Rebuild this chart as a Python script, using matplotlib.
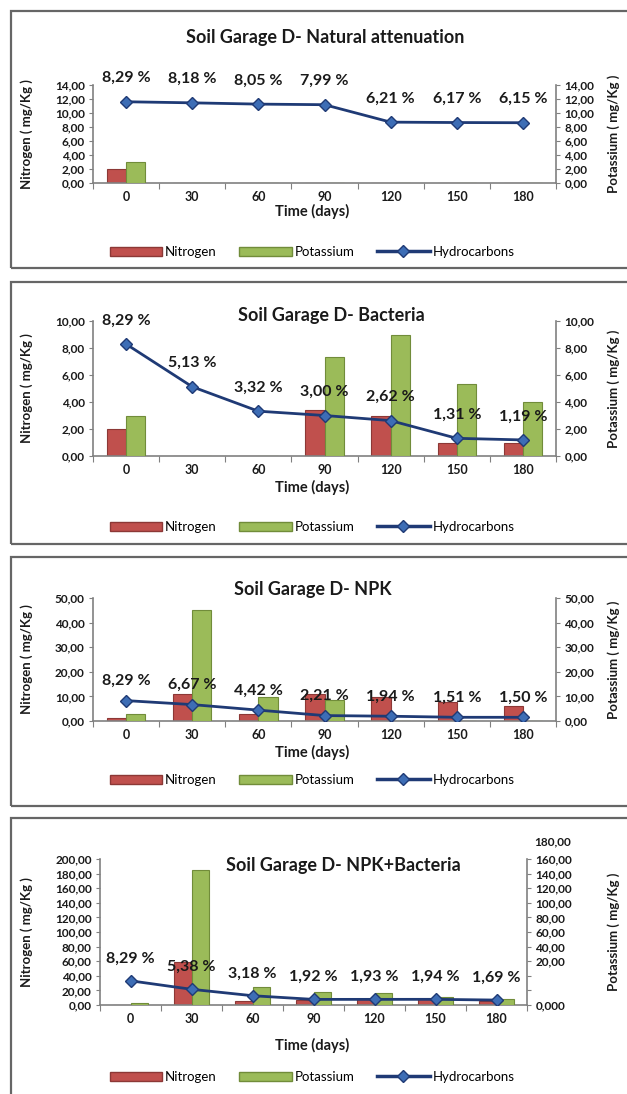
import numpy as np
import matplotlib
matplotlib.use("Agg")
import matplotlib.pyplot as plt
from matplotlib.patches import Rectangle, Patch
from matplotlib.lines import Line2D

plt.rcParams['font.family'] = ['Lato', 'DejaVu Sans']

W, H = 627, 1094

DAYS = ["0", "30", "60", "90", "120", "150", "180"]

TITLES = [
    "Soil Garage D- Natural attenuation",
    "Soil Garage D- Bacteria",
    "Soil Garage D- NPK",
    "Soil Garage D- NPK+Bacteria",
]

# mg/Kg per sampling day
NITROGEN_NA = [2.0, 0, 0, 0, 0, 0, 0]
POTASSIUM_NA = [3.0, 0, 0, 0, 0, 0, 0]
HC_NA = [8.29, 8.18, 8.05, 7.99, 6.21, 6.17, 6.15]

NITROGEN_BAC = [2.0, 0, 0, 3.4, 3.0, 1.0, 1.0]
POTASSIUM_BAC = [3.0, 0, 0, 7.3, 9.0, 5.3, 4.0]
HC_BAC = [8.29, 5.13, 3.32, 3.00, 2.62, 1.31, 1.19]

NITROGEN_NPK = [1.4, 11.0, 2.8, 10.8, 9.6, 7.8, 6.2]
POTASSIUM_NPK = [3.0, 45.0, 9.6, 8.5, 0, 0, 0]
HC_NPK = [8.29, 6.67, 4.42, 2.21, 1.94, 1.51, 1.50]

NITROGEN_NPKB = [0, 59.0, 5.0, 7.0, 8.0, 8.0, 5.0]
POTASSIUM_NPKB = [3.0, 185.0, 25.0, 18.0, 16.0, 11.0, 8.0]
HC_NPKB = [8.29, 5.38, 3.18, 1.92, 1.93, 1.94, 1.69]

LEFT_TICKS = [
    list(range(0, 15, 2)),
    list(range(0, 11, 2)),
    list(range(0, 51, 10)),
    list(range(0, 201, 20)),
]
# the secondary axis of the last panel carries its own label set
RIGHT4_TICKS = list(range(0, 201, 20))
RIGHT4_LABELS = ["0,000", "", "", "20,00", "40,00", "60,00", "80,00",
                 "100,00", "120,00", "140,00", "160,00"]

RED, RED_EDGE = "#C0504D", "#8C3836"
GREEN, GREEN_EDGE = "#9BBB59", "#718C3A"
NAVY, BLUE = "#1F3A75", "#3D6DB5"
SPINE = "#808080"
INK = "#1a1a1a"


def fmt(v):
    return f"{v:.2f}".replace(".", ",")


def fig_rect(x0, y_top, x1, y_bot):
    return [x0 / W, 1 - y_bot / H, (x1 - x0) / W, (y_bot - y_top) / H]


# box top/bottom, plot extents, title/xlabel/legend rows, hc axis max, label offset
panels = [
    dict(n=NITROGEN_NA, k=POTASSIUM_NA, hc=HC_NA, box=(11, 268),
         plot=(93, 85, 556, 183), title=(325, 37), xlab_y=211, leg_y=252,
         hc_max=10, off=17),
    dict(n=NITROGEN_BAC, k=POTASSIUM_BAC, hc=HC_BAC, box=(282, 544),
         plot=(93, 321, 556, 456), title=(331, 316), xlab_y=487, leg_y=527,
         hc_max=10, off=17),
    dict(n=NITROGEN_NPK, k=POTASSIUM_NPK, hc=HC_NPK, box=(557, 806),
         plot=(93, 598, 556, 721), title=(313, 590), xlab_y=752, leg_y=780,
         hc_max=50, off=14),
    dict(n=NITROGEN_NPKB, k=POTASSIUM_NPKB, hc=HC_NPKB, box=(818, 1110),
         plot=(100, 859, 527, 1005), title=(343, 866), xlab_y=1045,
         leg_y=1077, hc_max=50, off=16),
]

fig = plt.figure(figsize=(W / 100, H / 100), dpi=100)
x = np.arange(len(DAYS))
bw = 0.29

for i, p in enumerate(panels):
    top, bot = p["box"]
    fig.add_artist(Rectangle((11 / W, 1 - bot / H), 1.2, (bot - top) / H,
                             transform=fig.transFigure, fill=False,
                             edgecolor="#666666", lw=1.6))

    x0, yt, x1, yb = p["plot"]
    ax = fig.add_axes(fig_rect(x0, yt, x1, yb))
    ax2 = ax.twinx()
    ax3 = ax.twinx()

    ax.bar(x - bw / 2, p["n"], bw, color=RED, edgecolor=RED_EDGE, lw=0.8)
    ax2.bar(x + bw / 2, p["k"], bw, color=GREEN, edgecolor=GREEN_EDGE, lw=0.8)
    ax3.plot(x, p["hc"], color=NAVY, lw=2, marker="D", ms=6.5,
             mfc=BLUE, mec=NAVY, mew=1)
    for xi, v in zip(x, p["hc"]):
        ax3.annotate(fmt(v) + " %", (xi, v), xytext=(0, p["off"]),
                     textcoords="offset points", ha="center", va="center",
                     fontsize=11.5, fontweight="bold", color=INK)

    lt = LEFT_TICKS[i]
    ax.set_ylim(0, lt[-1])
    ax.set_yticks(lt)
    ax.set_yticklabels([fmt(t) for t in lt])
    if i < 3:
        ax2.set_ylim(0, lt[-1])
        ax2.set_yticks(lt)
        ax2.set_yticklabels([fmt(t) for t in lt])
    else:
        ax2.set_ylim(0, RIGHT4_TICKS[-1])
        ax2.set_yticks(RIGHT4_TICKS)
        ax2.set_yticklabels(RIGHT4_LABELS)
        ax2.annotate("180,00", xy=(1, 224), xycoords=("axes fraction", "data"),
                     xytext=(5, 0), textcoords="offset points", ha="left",
                     va="center", fontsize=8.5, fontweight="bold", color=INK,
                     annotation_clip=False)
    ax3.set_ylim(0, p["hc_max"])
    ax3.axis("off")

    ax.set_xlim(-0.5, len(DAYS) - 0.5)
    ax.set_xticks(np.arange(-0.5, len(DAYS), 1))
    ax.set_xticklabels([])
    ax.set_xticks(x, minor=True)
    ax.set_xticklabels(DAYS, minor=True)
    ax.tick_params(axis="x", which="major", length=4, color=SPINE)
    ax.tick_params(axis="x", which="minor", length=0, pad=6, labelsize=9,
                   labelcolor=INK)

    for a in (ax, ax2):
        for s in a.spines.values():
            s.set_visible(False)
        a.tick_params(axis="y", length=3, color=SPINE, labelsize=8.5, pad=3,
                      labelcolor=INK)
        for lab in a.get_yticklabels() + a.get_xticklabels(minor=True):
            lab.set_fontweight("bold")
    ax.spines["left"].set_visible(True)
    ax.spines["bottom"].set_visible(True)
    ax2.spines["right"].set_visible(True)
    for s in (ax.spines["left"], ax.spines["bottom"], ax2.spines["right"]):
        s.set_color(SPINE)
        s.set_linewidth(1.2)

    tx, ty = p["title"]
    fig.text(tx / W, 1 - ty / H, TITLES[i], ha="center", va="center",
             fontsize=13, fontweight="bold", color=INK)
    fig.text(312 / W, 1 - p["xlab_y"] / H, "Time (days)", ha="center",
             va="center", fontsize=10.5, fontweight="bold", color=INK)
    cy = 1 - (yt + yb) / 2 / H
    fig.text(27 / W, cy, "Nitrogen ( mg/Kg )", rotation=90, ha="center",
             va="center", fontsize=9.5, fontweight="bold", color=INK)
    fig.text(614 / W, cy, "Potassium ( mg/Kg )", rotation=90, ha="center",
             va="center", fontsize=9.5, fontweight="bold", color=INK)

    handles = [
        Patch(facecolor=RED, edgecolor=RED_EDGE, label="Nitrogen"),
        Patch(facecolor=GREEN, edgecolor=GREEN_EDGE, label="Potassium"),
        Line2D([0], [0], color=NAVY, lw=2.5, marker="D", ms=6.5, mfc=BLUE,
               mec=NAVY, label="Hydrocarbons"),
    ]
    fig.legend(handles=handles, loc="center", ncol=3, frameon=False,
               bbox_to_anchor=(312 / W, 1 - p["leg_y"] / H),
               fontsize=9.5, handlelength=4.0, handleheight=0.7,
               handletextpad=0.2, columnspacing=1.7)

fig.savefig("out.png", dpi=100)
